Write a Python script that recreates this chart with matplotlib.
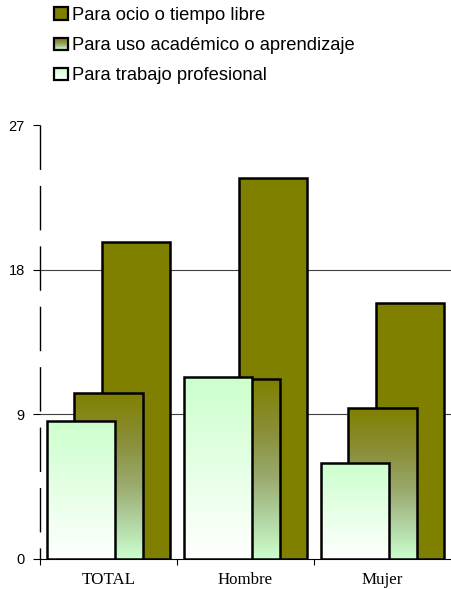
import numpy as np
import matplotlib
matplotlib.use('Agg')
import matplotlib.pyplot as plt
from matplotlib.colors import LinearSegmentedColormap
from matplotlib.legend_handler import HandlerBase
from matplotlib.patches import Rectangle

categories = ['TOTAL', 'Hombre', 'Mujer']
series_names = ['Para ocio o tiempo libre',
                'Para uso académico o aprendizaje',
                'Para trabajo profesional']
ocio = [19.7, 23.7, 15.9]
academico = [10.3, 11.2, 9.4]
trabajo = [8.6, 11.3, 6.0]
yticks = [0, 9, 18, 27]

OLIVE = '#808000'
cmap_acad = LinearSegmentedColormap.from_list(
    'acad', [(0, '#808000'), (0.3, '#8a8f3a'), (0.55, '#9aaa6e'),
             (0.8, '#b4d8a8'), (1, '#ccffcc')])
cmap_trab = LinearSegmentedColormap.from_list('trab', ['#ccffcc', '#ffffff'])

fig = plt.figure(figsize=(4.51, 5.89), dpi=100)
ax = fig.add_axes([40/451, 30/589, 411/451, 434/589])

x = np.arange(len(categories))
width = 0.5
offs = {'trab': -0.2, 'acad': 0.0, 'ocio': 0.2}
EW = 1.8

# gridlines
for g in [9, 18]:
    ax.axhline(g, color='#404040', lw=0.8, zorder=1)

b_ocio = ax.bar(x + offs['ocio'], ocio, width, facecolor=OLIVE,
                edgecolor='black', lw=EW, zorder=2)
b_acad = ax.bar(x + offs['acad'], academico, width, facecolor='none',
                edgecolor='black', lw=EW, zorder=3.5)
b_trab = ax.bar(x + offs['trab'], trabajo, width, facecolor='none',
                edgecolor='black', lw=EW, zorder=4.5)


def grad_fill(bars, cmap, z):
    grad = np.linspace(0, 1, 256).reshape(-1, 1)
    for b in bars:
        x0, y0 = b.get_x(), b.get_y()
        w, h = b.get_width(), b.get_height()
        im = ax.imshow(grad, cmap=cmap, extent=(x0, x0 + w, y0, y0 + h),
                       origin='upper', aspect='auto', zorder=z,
                       interpolation='bilinear')
        im.set_clip_path(b)


grad_fill(b_acad, cmap_acad, 3)
grad_fill(b_trab, cmap_trab, 4)

ax.set_xlim(-0.5, 2.5)
ax.set_ylim(0, 27)

for s in ['top', 'right', 'left']:
    ax.spines[s].set_visible(False)
ax.spines['bottom'].set_color('black')
ax.spines['bottom'].set_linewidth(0.8)
ax.spines['bottom'].set_zorder(1.5)

# dashed y axis starting from the top
ax.plot([-0.5, -0.5], [27, 0], color='black', lw=1.0, dashes=(32, 11.5),
        zorder=6, clip_on=False)

ax.set_yticks(yticks)
ax.set_yticklabels([str(t) for t in yticks], family='Liberation Sans',
                   fontsize=10.5)
ax.tick_params(axis='y', direction='out', length=5, width=0.8, pad=6)

ax.set_xticks(x)
ax.set_xticklabels(categories, family='Liberation Serif', fontsize=12.2)
ax.tick_params(axis='x', which='major', length=0, pad=9.5)
ax.set_xticks([-0.5, 0.5, 1.5], minor=True)
ax.tick_params(axis='x', which='minor', direction='out', length=4, width=0.8)


class GradientHandler(HandlerBase):
    def __init__(self, cmap, **kw):
        super().__init__(**kw)
        self.cmap = cmap

    def create_artists(self, legend, orig_handle, xdescent, ydescent,
                       width, height, fontsize, trans):
        arts = []
        n = 20
        for i in range(n):
            y0 = -ydescent + height * (1 - (i + 1) / n)
            arts.append(Rectangle((-xdescent, y0), width, height / n,
                                  facecolor=self.cmap(i / (n - 1)),
                                  edgecolor='none', transform=trans))
        arts.append(Rectangle((-xdescent, -ydescent), width, height,
                              facecolor='none', edgecolor='black', lw=1.6,
                              transform=trans))
        return arts


h1 = Rectangle((0, 0), 1, 1, facecolor=OLIVE, edgecolor='black', lw=1.6)
h2 = Rectangle((0, 0), 1, 1)
h3 = Rectangle((0, 0), 1, 1)
leg = fig.legend([h1, h2, h3], series_names, loc='upper left',
                 bbox_to_anchor=(54/451, 1 - 7/589), frameon=False,
                 prop={'family': 'Liberation Sans', 'size': 13.2},
                 handlelength=0.74, handleheight=0.65, handletextpad=0.25,
                 labelspacing=0.72, borderpad=0, borderaxespad=0,
                 handler_map={h2: GradientHandler(cmap_acad),
                              h3: GradientHandler(cmap_trab)})

fig.savefig('out.png', dpi=100)
